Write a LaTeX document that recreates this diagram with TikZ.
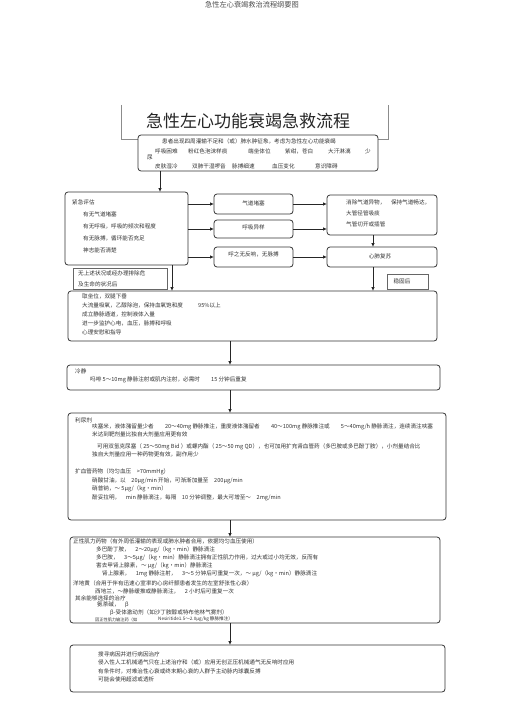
\documentclass[tikz,border=0pt]{standalone}
\usepackage{fontspec}
\setmainfont{Noto Sans CJK SC}
\usetikzlibrary{arrows.meta,fit}
\tikzset{
  box/.style={draw=black!80, line width=0.8pt, rounded corners=3pt, fill=white, inner sep=0pt, outer sep=0pt},
  thinbox/.style={draw=black!60, line width=0.5pt, fill=white, inner sep=0pt, outer sep=0pt},
  txt/.style={anchor=west, inner sep=0pt, font=\fontsize{5.6}{6}\selectfont, text=black!80},
  ctxt/.style={anchor=center, inner sep=0pt, font=\fontsize{5.6}{6}\selectfont, text=black!80},
  arr/.style={draw=black!85, line width=1pt, -{Latex[length=4pt,width=3.6pt]}}
}
\begin{document}
\begin{tikzpicture}[x=1pt,y=-1pt]
\useasboundingbox (0,0) rectangle (505,714);
% page header
\node[anchor=center, inner sep=0pt, font=\fontsize{7.2}{8}\selectfont, text=black!70] (hdr) at (252,5) {急性左心衰竭救治流程纲要图};
% title frame
\draw[draw=black!45, line width=0.5pt] (121,105) -- (121,139) -- (388,139) -- (388,105);
\node[anchor=center, inner sep=0pt, font=\fontsize{17}{18}\selectfont, text=black!85] (title) at (248,121) {急性左心功能衰竭急救流程};
% symptom box
\node[box, fit={(138,135) (378,171)}] (sym) {};
\node[txt] (s0) at (162,141) {患者出现四周灌输不足和（或）肺水肿征象，考虑为急性左心功能衰竭};
\node[txt] (s1) at (155,151) {呼吸困难};
\node[txt] (s2) at (188,151) {粉红色泡沫样痰};
\node[txt] (s3) at (248,151) {端坐体位};
\node[txt] (s4) at (285,151) {紫绀，苍白};
\node[txt] (s5) at (328,151) {大汗淋漓};
\node[txt] (s6) at (365,151) {少};
\node[txt] (s7) at (147,157.5) {尿};
\node[txt] (s8) at (155,166) {皮肤湿冷};
\node[txt] (s9) at (192,166) {双肺干湿啰音};
\node[txt] (s10) at (232,166) {脉搏细速};
\node[txt] (s11) at (272,166) {血压变化};
\node[txt] (s12) at (315,166) {意识障碍};
% assessment
\node[box, fit={(65,192) (188,265)}] (assess) {};
\node[txt] (a0) at (72,202) {紧急评估};
\node[txt] (a1) at (83,214) {有无气道堵塞};
\node[txt] (a2) at (83,226) {有无呼吸，呼吸的频次和程度};
\node[txt] (a3) at (83,238) {有无脉搏，循环能否充足};
\node[txt] (a4) at (83,250) {神志能否清楚};
% middle boxes
\node[box, fit={(214,194) (293,214)}] (m1) {};
\node[ctxt] at (253.5,203) {气道堵塞};
\node[box, fit={(214,220) (293,238)}] (m2) {};
\node[ctxt] at (253.5,227) {呼吸异样};
\node[box, fit={(214,247) (293,267)}] (m3) {};
\node[ctxt] at (253.5,254) {呼之无反响，无脉搏};
% right boxes
\node[box, fit={(327,195) (437,235)}] (r1) {};
\node[txt] at (346,202) {消除气道异物，　保持气道畅达，};
\node[txt] at (346,213) {大管径管吸痰};
\node[txt] at (346,224) {气管切开或插管};
\node[box, fit={(327,247) (437,267)}] (r2) {};
\node[ctxt] at (380,256) {心肺复苏};
% small label boxes
\node[thinbox, fit={(73,268) (167,289)}] (wu) {};
\node[txt] at (78,273.5) {无上述状况或经办理排除危};
\node[txt] at (78,284) {及生命的状况后};
\node[thinbox, fit={(387,274) (428,289)}] (wg) {};
\node[ctxt] at (402,281.5) {稳固后};
% b1
\node[box, fit={(68,291) (437,341)}] (b1) {};
\node[txt] at (82,296) {取坐位，双腿下垂};
\node[txt] at (82,305) {大流量吸氧，乙醇除泡，保持血氧饱和度};
\node[txt] at (198,305) {95\%以上};
\node[txt] at (82,314) {成立静脉通道，控制液体入量};
\node[txt] at (82,323) {进一步监护心电，血压，脉搏和呼吸};
\node[txt] at (82,332) {心理安慰和指导};
% b2
\node[box, fit={(67,365) (440,390)}] (b2) {};
\node[txt] at (75,371) {冷静};
\node[txt] at (90,379.5) {吗啡 5～10mg 静脉注射或肌内注射，必需时　　15 分钟后重复};
% b3
\node[box, fit={(68,413) (446,520)}] (b3) {};
\node[txt] at (75,420) {利尿剂};
\node[txt] at (92,427) {呋塞米，液体潴留量少者　　20～40mg 静脉推注，重度液体潴留者　　40～100mg 静脉推注或　　5～40mg/h 静脉滴注，连续滴注呋塞};
\node[txt] at (92,434.5) {米达到靶剂量比独自大剂量应用更有效};
\node[txt] at (97,447) {可用双氢克尿塞（ 25～50mg Bid ）或螺内酯（ 25～50 mg QD），也可加用扩充肾血管药（多巴胺或多巴酚丁胺），小剂量结合比};
\node[txt] at (92,454) {独自大剂量应用一种药物更有效，副作用少};
\node[txt] at (75,472) {扩血管药物（均匀血压　>70mmHg）};
\node[txt] at (92,481) {硝酸甘油，以　20μg/min 开始，可渐渐加量至　200μg/min};
\node[txt] at (92,489) {硝普钠，～ 5μg/（kg・min）};
\node[txt] at (92,497.5) {酚妥拉明，　min 静脉滴注，每隔　10 分钟调整，最大可增至～　2mg/min};
% b4
\node[box, fit={(70,537) (440,623)}] (b4) {};
\node[txt] at (73,541) {正性肌力药物（有外周低灌输的表现或肺水肿者合用，依据均匀血压使用）};
\node[txt] at (96,549.5) {多巴酚丁胺，　2～20μg/（kg・min）静脉滴注};
\node[txt] at (96,558) {多巴胺，　3～5μg/（kg・min）静脉滴注拥有正性肌力作用，过大或过小均无效，反而有};
\node[txt] at (96,566) {害去甲肾上腺素，～ μg/（kg・min）静脉滴注};
\node[txt] at (102,574) {肾上腺素，　1mg 静脉注射，　3～5 分钟后可重复一次，～ μg/（kg・min）静脉滴注};
\node[txt] at (73,583) {洋地黄（合用于伴有迅速心室率的心房纤颤患者发生的左室舒张性心衰）};
\node[txt] at (95,591.5) {西地兰，～静脉缓推或静脉滴注，　2 小时后可重复一次};
\node[txt] at (75,598) {其余能够选择的治疗};
\node[txt] at (97,605) {氨茶碱，　β};
\node[txt] at (110,612.5) {β-受体激动剂（如沙丁胺醇或特布他林气雾剂）};
\node[txt, font=\fontsize{4.2}{5}\selectfont] at (95,619.5) {因正性肌力输注药（如};
\node[txt, font=\fontsize{4.6}{5}\selectfont] at (158,619.5) {Nesiritide1.5～2.0μg/kg 静脉推注）};
% b5
\node[box, fit={(70,645) (445,692)}] (b5) {};
\node[txt] at (98,654) {搜寻病因并进行病因治疗};
\node[txt] at (98,662.5) {侵入性人工机械通气只在上述治疗和（或）应用无创正压机械通气无反响时应用};
\node[txt] at (98,671) {有条件时，对难治性心衰或终末期心衰的人群予主动脉内球囊反搏};
\node[txt] at (98,679) {可能会使用超滤或透析};
% column coordinates
\coordinate (xa) at (160,0);
\coordinate (xl) at (172,0);
\coordinate (xr) at (373,0);
\coordinate (xm) at (230,0);
% connectors
\draw[arr] (sym.south -| xa) -- (assess.north -| xa);
\draw[arr] (assess.east |- m1.west) -- (m1.west);
\draw[arr] (assess.east |- m2.west) -- (m2.west);
\draw[arr] (assess.east |- m3.west) -- (m3.west);
\draw[arr] (m1.east) -- (r1.west |- m1.east);
\draw[arr] (m2.east) -- (r1.west |- m2.east);
\draw[arr] (m3.east) -- (r2.west |- m3.east);
\draw[arr] (r1.south -| xr) -- (r2.north -| xr);
\draw[arr] (r2.south -| xr) -- (b1.north -| xr);
\draw[arr] (assess.south -| xl) -- (b1.north -| xl);
\draw[arr] (b1.south -| xm) -- (b2.north -| xm);
\draw[arr] (b2.south -| xm) -- (b3.north -| xm);
\draw[arr] (b3.south -| xm) -- (b4.north -| xm);
\draw[arr] (b4.south -| xm) -- (b5.north -| xm);
\end{tikzpicture}
\end{document}
